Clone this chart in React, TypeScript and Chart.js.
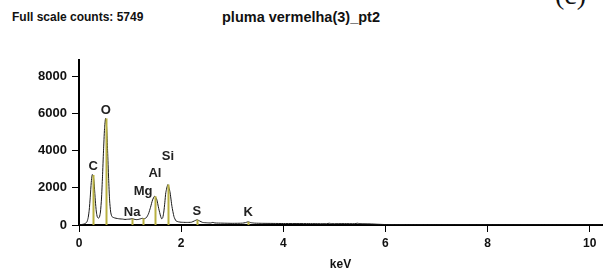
import React, { useEffect, useRef } from "react";
import { Chart, registerables } from "chart.js";

Chart.register(...registerables);

// Spectrum (keV, counts)
const energies = [
  0.0, 0.04, 0.08, 0.1, 0.12, 0.14, 0.16, 0.18, 0.2, 0.22, 0.24, 0.26, 0.28, 0.3, 0.32, 0.34, 0.36, 0.38,
  0.4, 0.42, 0.44, 0.46, 0.48, 0.5, 0.52, 0.54, 0.56, 0.58, 0.6, 0.62, 0.64, 0.66, 0.7, 0.75, 0.8, 0.85,
  0.9, 0.95, 1.0, 1.04, 1.08, 1.12, 1.16, 1.2, 1.24, 1.28, 1.32, 1.36, 1.4, 1.44, 1.48, 1.52, 1.56, 1.6,
  1.62, 1.64, 1.66, 1.68, 1.7, 1.74, 1.78, 1.82, 1.86, 1.9, 1.95, 2.0, 2.1, 2.2, 2.26, 2.31, 2.36, 2.42,
  2.5, 2.58, 2.62, 2.66, 2.8, 3.0, 3.2, 3.26, 3.31, 3.36, 3.44, 3.6, 3.8, 4.0, 4.5, 4.85, 4.9, 4.95, 5.2,
  5.4, 5.45, 5.5, 5.7, 5.85, 6.0, 6.5, 7.0, 8.0, 9.0, 10.24,
];
const counts = [
  0, 20, 40, 60, 80, 120, 200, 400, 800, 1500, 2300, 2720, 2650, 2100, 1300, 700, 420, 370,
  420, 700, 1400, 2600, 4000, 5200, 5749, 5300, 4000, 2500, 1300, 700, 480, 420, 380, 350, 330, 320,
  300, 310, 320, 340, 310, 290, 300, 330, 360, 340, 400, 600, 950, 1350, 1550, 1400, 900, 450,
  330, 400, 700, 1200, 1750, 2180, 1800, 1000, 450, 220, 170, 150, 140, 150, 220, 280, 220, 140,
  120, 110, 140, 110, 100, 90, 100, 130, 170, 130, 100, 90, 85, 80, 75, 70, 95, 70, 75,
  70, 95, 70, 60, 40, 25, 15, 10, 8, 5, 0,
];

// Element markers
const elements = ["C", "O", "Na", "Mg", "Al", "Si", "S", "K"];
const elementEnergies = [0.277, 0.525, 1.041, 1.254, 1.486, 1.74, 2.307, 3.313];
const elementHeights = [2700, 5749, 340, 360, 1550, 2180, 280, 170];
const labelLevels = [3160, 6200, 670, 1800, 2780, 3700, 740, 660];

const xTicks = [0, 2, 4, 6, 8, 10];
const yTicks = [0, 2000, 4000, 6000, 8000];

const headerLeft = "Full scale counts: 5749";
const headerTitle = "pluma vermelha(3)_pt2";
const panelTag = "(c)";

const FONT = "'Liberation Sans', Arial, sans-serif";

const markerPlugin = {
  id: "elementMarkers",
  afterDatasetsDraw(chart: any) {
    const { ctx, scales } = chart;
    const xs = scales.x;
    const ys = scales.y;
    ctx.save();
    ctx.strokeStyle = "#b8b040";
    ctx.lineWidth = 2;
    elementEnergies.forEach((e, i) => {
      const px = Math.round(xs.getPixelForValue(e)) + 0.5;
      ctx.beginPath();
      ctx.moveTo(px, ys.getPixelForValue(0));
      ctx.lineTo(px, ys.getPixelForValue(elementHeights[i]));
      ctx.stroke();
    });
    ctx.fillStyle = "#222";
    ctx.font = `bold 13px ${FONT}`;
    ctx.textAlign = "center";
    ctx.textBaseline = "middle";
    elements.forEach((el, i) => {
      ctx.fillText(el, xs.getPixelForValue(elementEnergies[i]), ys.getPixelForValue(labelLevels[i]));
    });
    ctx.restore();
  },
};

export default function App() {
  const ref = useRef<HTMLCanvasElement>(null);
  useEffect(() => {
    if (!ref.current) return;
    const chart = new Chart(ref.current, {
      type: "line",
      data: {
        datasets: [
          {
            data: energies.map((e, i) => ({ x: e, y: counts[i] })),
            borderColor: "#1a1a1a",
            borderWidth: 1,
            pointRadius: 0,
            tension: 0.2,
            fill: false,
          },
        ],
      },
      options: {
        animation: false,
        responsive: false,
        maintainAspectRatio: false,
        layout: { padding: { left: 0, right: 4, top: 60, bottom: 0 } },
        plugins: { legend: { display: false }, tooltip: { enabled: false }, title: { display: false } },
        scales: {
          x: {
            type: "linear",
            min: 0,
            max: 10.24,
            afterBuildTicks: (s: any) => {
              s.ticks = xTicks.map((v) => ({ value: v }));
            },
            afterFit: (s: any) => {
              s.height = 52;
            },
            grid: { drawOnChartArea: false, drawTicks: true, tickLength: 7, color: "#000", lineWidth: 1 },
            border: { display: true, color: "#000", width: 2 },
            ticks: {
              color: "#111",
              font: { family: FONT, size: 12, weight: "bold" },
              padding: 4,
              maxRotation: 0,
              callback: (v: any) => String(v),
            },
            title: {
              display: true,
              text: "keV",
              color: "#111",
              font: { family: FONT, size: 12, weight: "bold" },
              padding: { top: 0, bottom: 5 },
            },
          },
          y: {
            type: "linear",
            min: 0,
            max: 8900,
            afterBuildTicks: (s: any) => {
              s.ticks = yTicks.map((v) => ({ value: v }));
            },
            afterFit: (s: any) => {
              s.width = 79;
            },
            grid: { drawOnChartArea: false, drawTicks: true, tickLength: 7, color: "#000", lineWidth: 1 },
            border: { display: true, color: "#000", width: 2 },
            ticks: {
              color: "#111",
              font: { family: FONT, size: 13, weight: "bold" },
              padding: 5,
              callback: (v: any) => String(v),
            },
          },
        },
      },
      plugins: [markerPlugin],
    });
    return () => chart.destroy();
  }, []);

  return (
    <div style={{ position: "fixed", left: 0, top: 0, width: 606, height: 277, background: "#fff", overflow: "hidden" }}>
      <div style={{ position: "absolute", left: 12, top: 10, font: `bold 12px ${FONT}`, color: "#111", whiteSpace: "nowrap" }}>
        {headerLeft}
      </div>
      <div style={{ position: "absolute", left: 222, top: 9, font: `bold 14.5px ${FONT}`, color: "#111", whiteSpace: "nowrap" }}>
        {headerTitle}
      </div>
      <div
        style={{
          position: "absolute",
          left: 555,
          top: -19,
          font: "28px 'Liberation Serif', 'DejaVu Serif', serif",
          lineHeight: "28px",
          color: "#111",
          whiteSpace: "nowrap",
        }}
      >
        {panelTag}
      </div>
      <canvas ref={ref} width={606} height={277} style={{ position: "absolute", left: 0, top: 0 }} />
    </div>
  );
}
